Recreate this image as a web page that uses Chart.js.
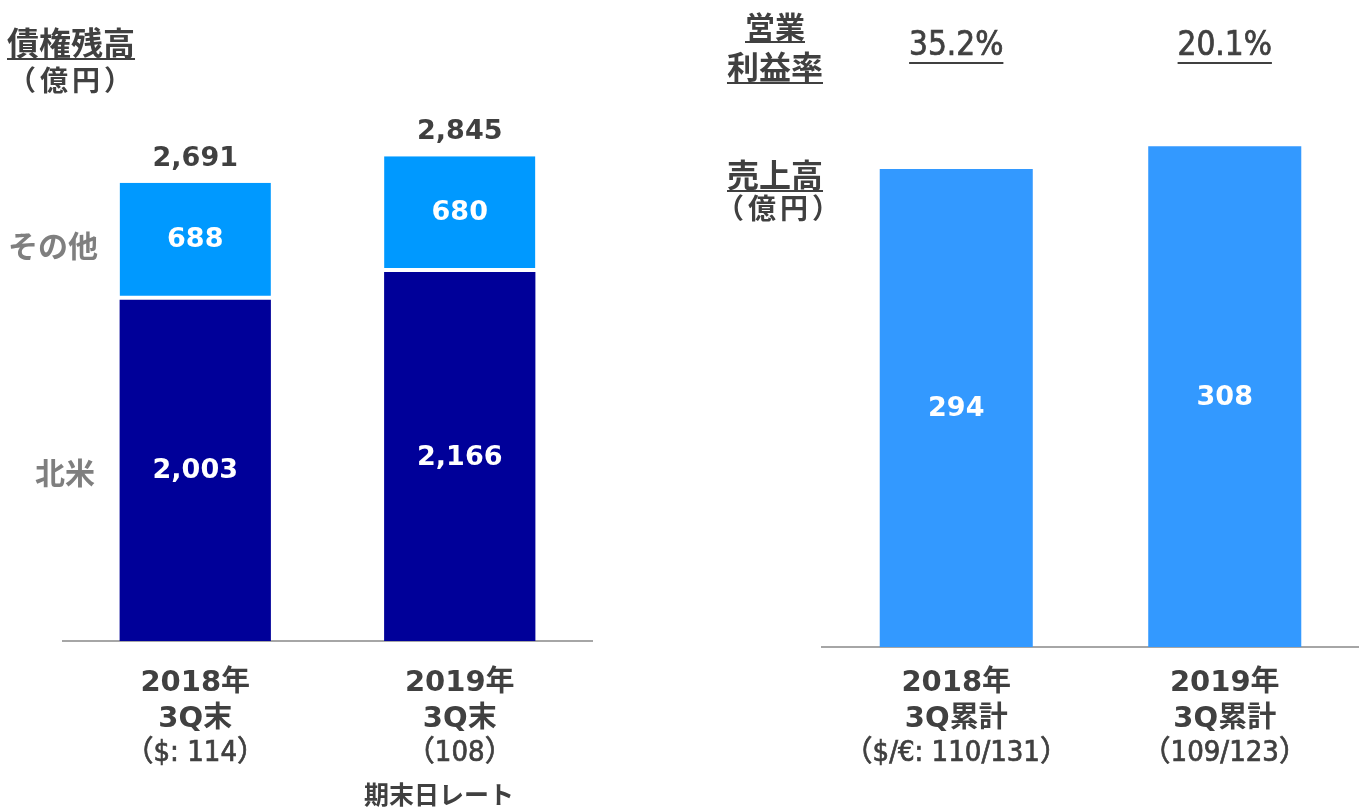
<!DOCTYPE html>
<html>
<head>
<meta charset="utf-8">
<script src="https://cdn.jsdelivr.net/npm/chart.js@4.4.0/dist/chart.umd.min.js"></script>
<style>
    html, body { margin: 0; padding: 0; background: #fff; }
    #wrap { position: relative; width: 1359px; height: 809px; overflow: hidden; font-family: 'Noto Sans CJK JP', sans-serif; color: #404040; }
    .box { position: absolute; top: 0; height: 809px; }
    #box-left { left: 0; width: 680px; }
    #box-right { left: 680px; width: 679px; }
    .t { position: absolute; font-weight: bold; white-space: nowrap; line-height: 1; }
    .u { text-decoration: underline; text-underline-offset: 3px; text-decoration-thickness: 2px; }
    .gray { color: #7f7f7f; }
</style>
</head>
<body>
<div id="wrap">
    <div class="box" id="box-left"><canvas id="leftChart"></canvas></div>
    <div class="box" id="box-right"><canvas id="rightChart"></canvas></div>

    <div class="t u" style="left:7px;top:25px;font-size:32px;">債権残高</div>
    <div class="t" style="left:8px;top:65px;font-size:28px;letter-spacing:4px;">（億円）</div>
    <div class="t gray" style="left:8px;top:229px;font-size:30px;">その他</div>
    <div class="t gray" style="left:35px;top:456px;font-size:30px;">北米</div>
    <div class="t" style="left:364px;top:781px;font-size:25px;">期末日レート</div>

    <div class="t u" style="left:725px;width:100px;text-align:center;top:10px;font-size:30px;">営業</div>
    <div class="t u" style="left:722px;width:106px;text-align:center;top:49px;font-size:32px;">利益率</div>
    <div class="t u" style="left:727px;top:157px;font-size:32px;">売上高</div>
    <div class="t" style="left:716px;top:193px;font-size:28px;letter-spacing:4px;">（億円）</div>
</div>

<script>
// ── DATA ──
const leftCategories = [['2018年', '3Q末'], ['2019年', '3Q末']];
const leftRates = ['（$: 114）', '（108）'];
const northAmerica = [2003, 2166];
const others = [688, 680];
const totals = [2691, 2845];

const rightCategories = [['2018年', '3Q累計'], ['2019年', '3Q累計']];
const rightRates = ['（$/€: 110/131）', '（109/123）'];
const sales = [294, 308];
const margins = ['35.2%', '20.1%'];

const fmt = v => v.toLocaleString('en-US');
const NUM_FONT = "'DejaVu Sans', 'Noto Sans CJK JP', sans-serif";
const COND_FONT = "'DejaVu Sans Condensed', 'Noto Sans CJK JP', sans-serif";
const TEXT = '#404040';

// medium-weight text: fill plus a thin stroke
function fillMedium(ctx, s, x, y) {
    ctx.fillText(s, x, y);
    ctx.lineWidth = 0.7;
    ctx.strokeText(s, x, y);
}

function drawCategoryLabels(chart, cats, rates) {
    const ctx = chart.ctx;
    const xs = chart.scales.x;
    ctx.fillStyle = TEXT;
    ctx.strokeStyle = TEXT;
    ctx.textAlign = 'center';
    ctx.textBaseline = 'middle';
    cats.forEach((lines, i) => {
        const x = xs.getPixelForValue(i);
        ctx.font = 'bold 29px ' + NUM_FONT;
        ctx.fillText(lines[0], x, 683);
        ctx.fillText(lines[1], x, 719);
        ctx.font = '29px ' + COND_FONT;
        fillMedium(ctx, rates[i], x, 753);
    });
}

const leftLabels = {
    id: 'leftLabels',
    afterDatasetsDraw(chart) {
        const ctx = chart.ctx;
        ctx.save();
        ctx.textAlign = 'center';
        ctx.textBaseline = 'middle';
        const lower = chart.getDatasetMeta(0).data;
        const upper = chart.getDatasetMeta(1).data;
        ctx.font = 'bold 27px ' + NUM_FONT;
        ctx.fillStyle = '#fff';
        lower.forEach((b, i) => ctx.fillText(fmt(northAmerica[i]), b.x, (b.y + b.base) / 2 + 1));
        upper.forEach((b, i) => ctx.fillText(fmt(others[i]), b.x, (b.y + b.base - 4) / 2 + 1));
        ctx.fillStyle = TEXT;
        upper.forEach((b, i) => ctx.fillText(fmt(totals[i]), b.x, b.y - 24));
        drawCategoryLabels(chart, leftCategories, leftRates);
        ctx.restore();
    }
};

const rightLabels = {
    id: 'rightLabels',
    afterDatasetsDraw(chart) {
        const ctx = chart.ctx;
        ctx.save();
        ctx.textAlign = 'center';
        ctx.textBaseline = 'middle';
        const bars = chart.getDatasetMeta(0).data;
        ctx.font = 'bold 27px ' + NUM_FONT;
        ctx.fillStyle = '#fff';
        bars.forEach((b, i) => ctx.fillText(fmt(sales[i]), b.x, (b.y + b.base) / 2 + 1));
        // operating margin row, underlined
        ctx.fillStyle = TEXT;
        ctx.strokeStyle = TEXT;
        ctx.font = '33px ' + COND_FONT;
        bars.forEach((b, i) => {
            fillMedium(ctx, margins[i], b.x, 46);
            const w = ctx.measureText(margins[i]).width;
            ctx.lineWidth = 2;
            ctx.beginPath();
            ctx.moveTo(b.x - w / 2, 63);
            ctx.lineTo(b.x + w / 2, 63);
            ctx.stroke();
        });
        drawCategoryLabels(chart, rightCategories, rightRates);
        ctx.restore();
    }
};

const commonX = {
    grid: { display: false, drawTicks: false },
    border: { display: true, color: '#a6a6a6', width: 2 },
    ticks: { display: false }
};

new Chart(document.getElementById('leftChart'), {
    type: 'bar',
    data: {
        labels: leftCategories.map(c => c.join('')),
        datasets: [
            { label: '北米', data: northAmerica, backgroundColor: '#000099', borderWidth: 0 },
            {
                label: 'その他', data: others, backgroundColor: '#0099ff',
                borderColor: '#fff', borderWidth: { top: 0, left: 0, right: 0, bottom: 4 }, borderSkipped: false
            }
        ]
    },
    options: {
        responsive: true, maintainAspectRatio: false, animation: false,
        layout: { padding: { left: 63, right: 88, top: 130, bottom: 168 } },
        plugins: { legend: { display: false }, tooltip: { enabled: false } },
        datasets: { bar: { barPercentage: 0.572, categoryPercentage: 1 } },
        scales: {
            x: { stacked: true, ...commonX },
            y: { stacked: true, display: false, min: 0, max: 3000 }
        }
    },
    plugins: [leftLabels]
});

new Chart(document.getElementById('rightChart'), {
    type: 'bar',
    data: {
        labels: rightCategories.map(c => c.join('')),
        datasets: [{ label: '売上高', data: sales, backgroundColor: '#3399ff', borderWidth: 0 }]
    },
    options: {
        responsive: true, maintainAspectRatio: false, animation: false,
        layout: { padding: { left: 142, right: 0, top: 78, bottom: 162 } },
        plugins: { legend: { display: false }, tooltip: { enabled: false } },
        datasets: { bar: { barPercentage: 0.57, categoryPercentage: 1 } },
        scales: {
            x: commonX,
            y: { display: false, min: 0, max: 350 }
        }
    },
    plugins: [rightLabels]
});
</script>
</body>
</html>
